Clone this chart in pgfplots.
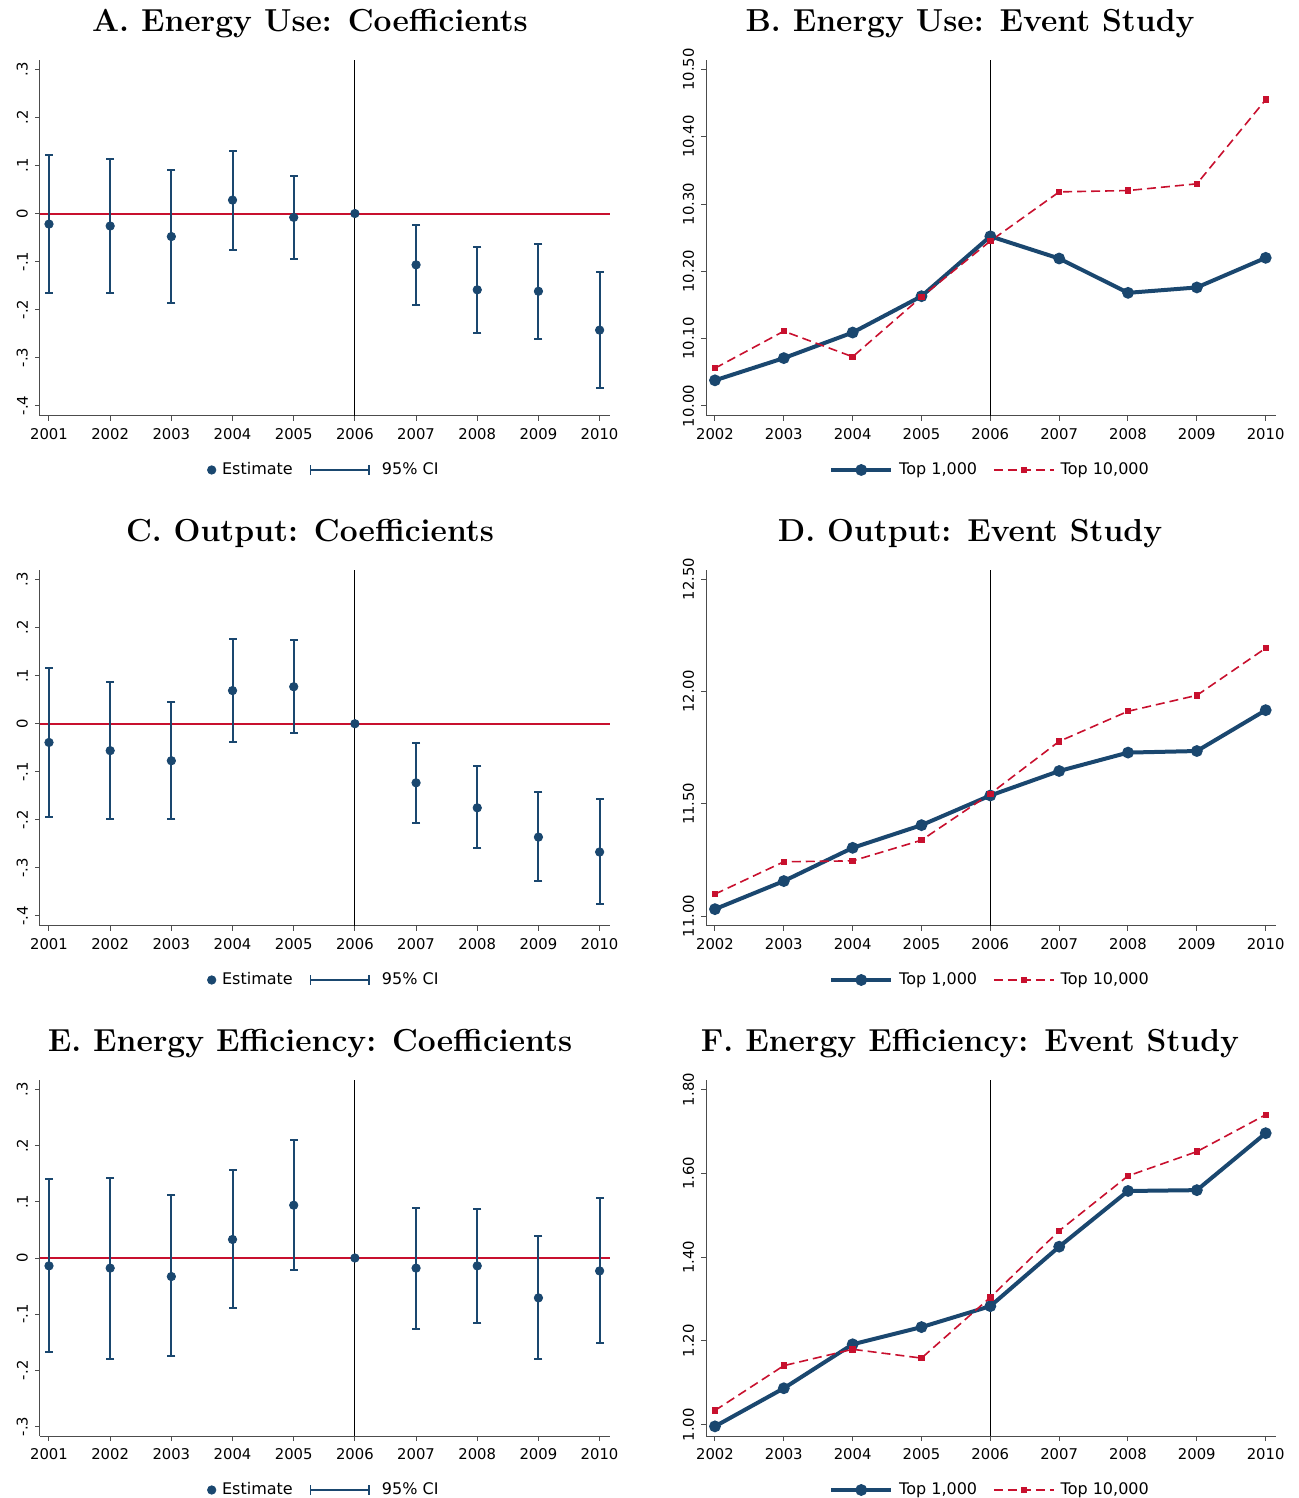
\documentclass[border=0pt]{standalone}
\usepackage{fontspec}
\usepackage{pgfplots}
\pgfplotsset{compat=1.18}
\usepgfplotslibrary{groupplots}
\usetikzlibrary{arrows.meta}
\newfontfamily\dejavu{DejaVu Sans}
\definecolor{navyc}{HTML}{1A476F}
\definecolor{redc}{HTML}{C8102E}

% vertical line at 2006
\newcommand\vsix[1]{\draw[black, line width=0.5pt] ({axis cs:2006,#1}|-{rel axis cs:0,0}) -- ({axis cs:2006,#1}|-{rel axis cs:0,1});}

\pgfplotsset{
  base/.style={
    scale only axis, width=285pt, height=178pt,
    axis lines*=left,
    axis line style={black!70, line width=0.5pt},
    tick align=outside, major tick length=2.5pt,
    tick style={black!70, line width=0.5pt},
    /pgf/number format/1000 sep={},
    /pgf/number format/assume math mode=true,
    ticklabel style={font=\dejavu\fontsize{7.4}{9}\selectfont},
    yticklabel style={rotate=90, anchor=south},
    title style={font=\fontsize{15.9}{18}\selectfont\bfseries, at={(0.5,1)}, anchor=base, yshift=8pt},
    legend style={at={(0.5,0)}, anchor=center, yshift=-27pt, draw=none, fill=none,
      legend columns=-1, font=\dejavu\fontsize{8}{9}\selectfont,
      /tikz/every even column/.append style={column sep=6pt}},
  },
  coef/.style={base, xmin=2000.853, xmax=2010.17, xtick={2001,...,2010},
    title style={xshift=-7.5pt}},
  event/.style={base, xmin=2001.87, xmax=2010.15, xtick={2002,...,2010},
    title style={xshift=-10.5pt},
    yticklabel style={/pgf/number format/fixed, /pgf/number format/fixed zerofill, /pgf/number format/precision=2},
    legend image code/.code={\draw[mark repeat=2, mark phase=2, #1] plot coordinates {(0pt,0pt) (15pt,0pt) (30pt,0pt)}; \path (31pt,0pt);}},
  ci/.style={navyc, line width=1pt, mark=-, mark size=2pt, mark options={solid, line width=1pt}, unbounded coords=jump, forget plot},
  est/.style={navyc, only marks, mark=*, mark size=2.1pt,
    legend image code/.code={\draw[##1] plot coordinates {(0pt,0pt)}; \path (3pt,0pt);}},
  top1/.style={navyc, line width=2pt, mark=*, mark size=1.9pt},
  top10/.style={redc, line width=0.8pt, dash pattern=on 4.5pt off 2.5pt, mark=square*, mark size=1.2pt, mark options={solid}},
  zeroln/.style={color=redc, line width=1pt, mark=none, forget plot},
}
\newcommand\cilegend{\addlegendimage{legend image code/.code={\draw[navyc, line width=0.8pt, {Bar[width=5pt]}-{Bar[width=5pt]}] (0pt,0pt) -- (30pt,0pt); \path (34pt,0pt);}}}

\begin{document}
\begin{tikzpicture}
\begin{groupplot}[group style={group size=2 by 3, horizontal sep=48pt, vertical sep=77pt}]

% A
\nextgroupplot[coef, title={A. Energy Use: Coefficients}, ymin=-0.422, ymax=0.32,
  ytick={-0.4,-0.3,-0.2,-0.1,0,0.1,0.2,0.3}, yticklabels={-.4,-.3,-.2,-.1,0,.1,.2,.3}]
\addplot[zeroln] coordinates {(2000.853,0) (2010.17,0)};
\vsix{0}
\addplot[ci] coordinates {(2001,-0.165) (2001,0.121) (2001,nan) (2002,-0.165) (2002,0.113) (2002,nan)
  (2003,-0.187) (2003,0.090) (2003,nan) (2004,-0.075) (2004,0.131) (2004,nan) (2005,-0.095) (2005,0.079) (2005,nan)
  (2007,-0.190) (2007,-0.023) (2007,nan) (2008,-0.249) (2008,-0.070) (2008,nan) (2009,-0.261) (2009,-0.063) (2009,nan)
  (2010,-0.363) (2010,-0.121)};
\addplot[est] coordinates {(2001,-0.022) (2002,-0.026) (2003,-0.048) (2004,0.028) (2005,-0.008) (2006,0)
  (2007,-0.107) (2008,-0.159) (2009,-0.162) (2010,-0.243)};
\addlegendentry{Estimate}
\cilegend
\addlegendentry{95\% CI}

% B
\nextgroupplot[event, title={B. Energy Use: Event Study}, ymin=9.985, ymax=10.514,
  ytick={10,10.1,10.2,10.3,10.4,10.5}]
\vsix{10.2}
\addplot[top1] coordinates {(2002,10.038) (2003,10.071) (2004,10.109) (2005,10.163) (2006,10.252)
  (2007,10.219) (2008,10.168) (2009,10.176) (2010,10.220)};
\addlegendentry{Top 1,000}
\addplot[top10] coordinates {(2002,10.056) (2003,10.111) (2004,10.073) (2005,10.162) (2006,10.245)
  (2007,10.318) (2008,10.320) (2009,10.330) (2010,10.455)};
\addlegendentry{Top 10,000}

% C
\nextgroupplot[coef, title={C. Output: Coefficients}, ymin=-0.421, ymax=0.32,
  ytick={-0.4,-0.3,-0.2,-0.1,0,0.1,0.2,0.3}, yticklabels={-.4,-.3,-.2,-.1,0,.1,.2,.3}]
\addplot[zeroln] coordinates {(2000.853,0) (2010.17,0)};
\vsix{0}
\addplot[ci] coordinates {(2001,-0.195) (2001,0.117) (2001,nan) (2002,-0.198) (2002,0.087) (2002,nan)
  (2003,-0.198) (2003,0.046) (2003,nan) (2004,-0.039) (2004,0.177) (2004,nan) (2005,-0.019) (2005,0.175) (2005,nan)
  (2007,-0.207) (2007,-0.040) (2007,nan) (2008,-0.259) (2008,-0.089) (2008,nan) (2009,-0.328) (2009,-0.143) (2009,nan)
  (2010,-0.375) (2010,-0.157)};
\addplot[est] coordinates {(2001,-0.039) (2002,-0.056) (2003,-0.077) (2004,0.069) (2005,0.077) (2006,0)
  (2007,-0.123) (2008,-0.175) (2009,-0.236) (2010,-0.267)};
\addlegendentry{Estimate}
\cilegend
\addlegendentry{95\% CI}

% D
\nextgroupplot[event, title={D. Output: Event Study}, ymin=10.956, ymax=12.541,
  ytick={11,11.5,12,12.5}]
\vsix{11.5}
\addplot[top1] coordinates {(2002,11.031) (2003,11.156) (2004,11.304) (2005,11.405) (2006,11.537)
  (2007,11.646) (2008,11.728) (2009,11.735) (2010,11.917)};
\addlegendentry{Top 1,000}
\addplot[top10] coordinates {(2002,11.098) (2003,11.242) (2004,11.246) (2005,11.338) (2006,11.545)
  (2007,11.778) (2008,11.912) (2009,11.983) (2010,12.193)};
\addlegendentry{Top 10,000}

% E
\nextgroupplot[coef, title={E. Energy Efficiency: Coefficients}, ymin=-0.317, ymax=0.317,
  ytick={-0.3,-0.2,-0.1,0,0.1,0.2,0.3}, yticklabels={-.3,-.2,-.1,0,.1,.2,.3}]
\addplot[zeroln] coordinates {(2000.853,0) (2010.17,0)};
\vsix{0}
\addplot[ci] coordinates {(2001,-0.168) (2001,0.140) (2001,nan) (2002,-0.179) (2002,0.143) (2002,nan)
  (2003,-0.175) (2003,0.112) (2003,nan) (2004,-0.089) (2004,0.156) (2004,nan) (2005,-0.022) (2005,0.211) (2005,nan)
  (2007,-0.126) (2007,0.089) (2007,nan) (2008,-0.116) (2008,0.088) (2008,nan) (2009,-0.180) (2009,0.039) (2009,nan)
  (2010,-0.152) (2010,0.107)};
\addplot[est] coordinates {(2001,-0.014) (2002,-0.018) (2003,-0.033) (2004,0.033) (2005,0.094) (2006,0)
  (2007,-0.018) (2008,-0.014) (2009,-0.071) (2010,-0.023)};
\addlegendentry{Estimate}
\cilegend
\addlegendentry{95\% CI}

% F
\nextgroupplot[event, title={F. Energy Efficiency: Event Study}, ymin=0.973, ymax=1.823,
  ytick={1,1.2,1.4,1.6,1.8}]
\vsix{1.4}
\addplot[top1] coordinates {(2002,0.996) (2003,1.087) (2004,1.192) (2005,1.233) (2006,1.283)
  (2007,1.425) (2008,1.558) (2009,1.560) (2010,1.696)};
\addlegendentry{Top 1,000}
\addplot[top10] coordinates {(2002,1.034) (2003,1.141) (2004,1.180) (2005,1.159) (2006,1.304)
  (2007,1.463) (2008,1.594) (2009,1.652) (2010,1.740)};
\addlegendentry{Top 10,000}
\end{groupplot}
\pgfresetboundingbox
\path[use as bounding box] ([shift={(-20pt,30pt)}]group c1r1.north west) rectangle ++(649pt,-749pt);
\end{tikzpicture}
\end{document}
